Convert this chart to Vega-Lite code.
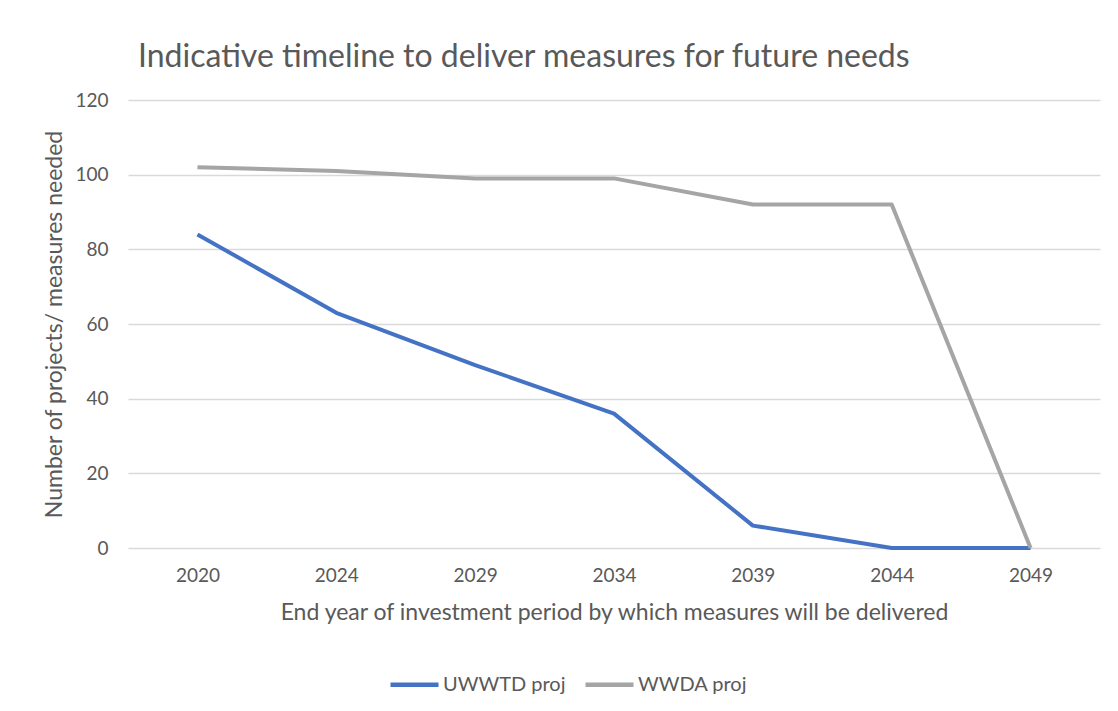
{
  "$schema": "https://vega.github.io/schema/vega-lite/v6.json",
  "autosize": {"type": "none"},
  "width": 972,
  "height": 448,
  "padding": {"left": 128, "top": 100, "right": 18, "bottom": 163},
  "background": "white",
  "title": {
    "text": "Indicative timeline to deliver measures for future needs",
    "anchor": "start",
    "frame": "group",
    "dx": 10,
    "offset": 17,
    "font": "Lato",
    "fontSize": 32,
    "fontWeight": "normal",
    "color": "#595959"
  },
  "config": {
    "view": {"stroke": null},
    "font": "Lato"
  },
  "data": {
    "values": [
      {"year": "2020", "series": "UWWTD proj", "value": 84},
      {"year": "2024", "series": "UWWTD proj", "value": 63},
      {"year": "2029", "series": "UWWTD proj", "value": 49},
      {"year": "2034", "series": "UWWTD proj", "value": 36},
      {"year": "2039", "series": "UWWTD proj", "value": 6},
      {"year": "2044", "series": "UWWTD proj", "value": 0},
      {"year": "2049", "series": "UWWTD proj", "value": 0},
      {"year": "2020", "series": "WWDA proj", "value": 102},
      {"year": "2024", "series": "WWDA proj", "value": 101},
      {"year": "2029", "series": "WWDA proj", "value": 99},
      {"year": "2034", "series": "WWDA proj", "value": 99},
      {"year": "2039", "series": "WWDA proj", "value": 92},
      {"year": "2044", "series": "WWDA proj", "value": 92},
      {"year": "2049", "series": "WWDA proj", "value": 0}
    ]
  },
  "mark": {"type": "line", "strokeWidth": 4, "strokeJoin": "round", "strokeCap": "butt"},
  "encoding": {
    "x": {
      "field": "year",
      "type": "ordinal",
      "scale": {"type": "point", "padding": 0.5},
      "axis": {
        "title": "End year of investment period by which measures will be delivered",
        "labelAngle": 0,
        "labelFontSize": 19,
        "labelColor": "#595959",
        "labelPadding": 18,
        "ticks": false,
        "domain": false,
        "grid": false,
        "titleFontSize": 23,
        "titleFontWeight": "normal",
        "titleColor": "#595959",
        "titlePadding": 16
      }
    },
    "y": {
      "field": "value",
      "type": "quantitative",
      "scale": {"domain": [0, 120]},
      "axis": {
        "title": "Number of projects/ measures needed",
        "values": [0, 20, 40, 60, 80, 100, 120],
        "labelFontSize": 19,
        "labelColor": "#595959",
        "labelPadding": 20,
        "ticks": false,
        "domain": false,
        "gridColor": "#d9d9d9",
        "gridWidth": 1.3,
        "titleFontSize": 23,
        "titleFontWeight": "normal",
        "titleColor": "#595959",
        "titlePadding": 8
      }
    },
    "color": {
      "field": "series",
      "type": "nominal",
      "scale": {"domain": ["UWWTD proj", "WWDA proj"], "range": ["#4472C4", "#A5A5A5"]},
      "legend": {
        "title": null,
        "orient": "none",
        "direction": "horizontal",
        "legendX": 260,
        "legendY": 558,
        "symbolType": "stroke",
        "symbolSize": 2304,
        "symbolStrokeWidth": 4.5,
        "labelFontSize": 20,
        "labelColor": "#595959",
        "labelOffset": 2,
        "columnPadding": 10
      }
    }
  }
}
